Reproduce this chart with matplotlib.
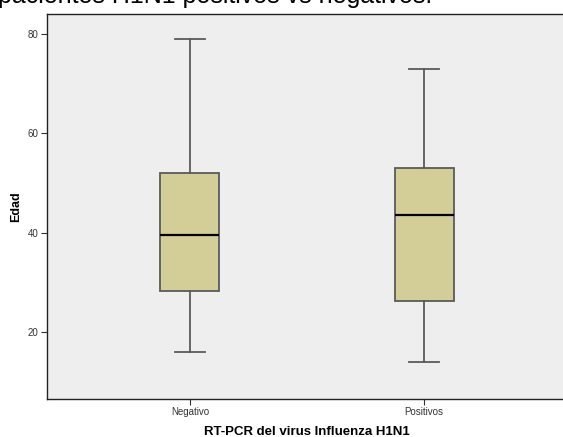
import matplotlib.pyplot as plt

plt.rcParams['font.family'] = ['Liberation Sans', 'DejaVu Sans']

# datos
grupos = ['Negativo', 'Positivos']
minimo = [16, 14]
q1 = [28.25, 26.25]
mediana = [39.5, 43.5]
q3 = [52, 53]
maximo = [79, 73]
yticks = [20, 40, 60, 80]

if __name__ == '__main__':
    fig = plt.figure(figsize=(5.63, 4.37), dpi=100)
    ax = fig.add_axes([47 / 563, 38 / 437, 520 / 563, 385 / 437])
    ax.set_facecolor('#EEEEEE')

    stats = []
    for i in range(len(grupos)):
        stats.append({'label': grupos[i], 'whislo': minimo[i], 'q1': q1[i],
                      'med': mediana[i], 'q3': q3[i], 'whishi': maximo[i],
                      'fliers': []})

    ax.bxp(stats, positions=[1, 2], widths=0.252, patch_artist=True,
           showfliers=False,
           boxprops=dict(facecolor='#D3CE98', edgecolor='#5A5A5A', linewidth=1.3),
           medianprops=dict(color='black', linewidth=1.6),
           whiskerprops=dict(color='#5A5A5A', linewidth=1.3),
           capprops=dict(color='#5A5A5A', linewidth=1.3),
           capwidths=0.125)

    ax.set_xlim(0.39, 2.61)
    ax.set_ylim(6.5, 84)
    ax.set_yticks(yticks)
    ax.set_yticklabels([str(t) for t in yticks], fontsize=7, color='#333333')
    ax.set_xticks([1, 2])
    ax.set_xticklabels(grupos, fontsize=7, color='#333333')
    ax.tick_params(direction='out', length=4, width=0.8, color='#333333', pad=2)

    for s in ax.spines.values():
        s.set_color('#222222')
        s.set_linewidth(1.0)

    ax.set_ylabel('Edad', fontsize=9, fontweight='bold', labelpad=4)
    ax.set_xlabel('RT-PCR del virus Influenza H1N1', fontsize=9.5,
                  fontweight='bold', labelpad=6)

    # titulo cortado en el borde superior, como en la imagen original
    fig.text(-2 / 563, 1 - 3 / 437, 'pacientes H1N1 positivos vs negativos.',
             fontsize=18, va='baseline', ha='left', color='black')

    fig.savefig('out.png', dpi=100)
